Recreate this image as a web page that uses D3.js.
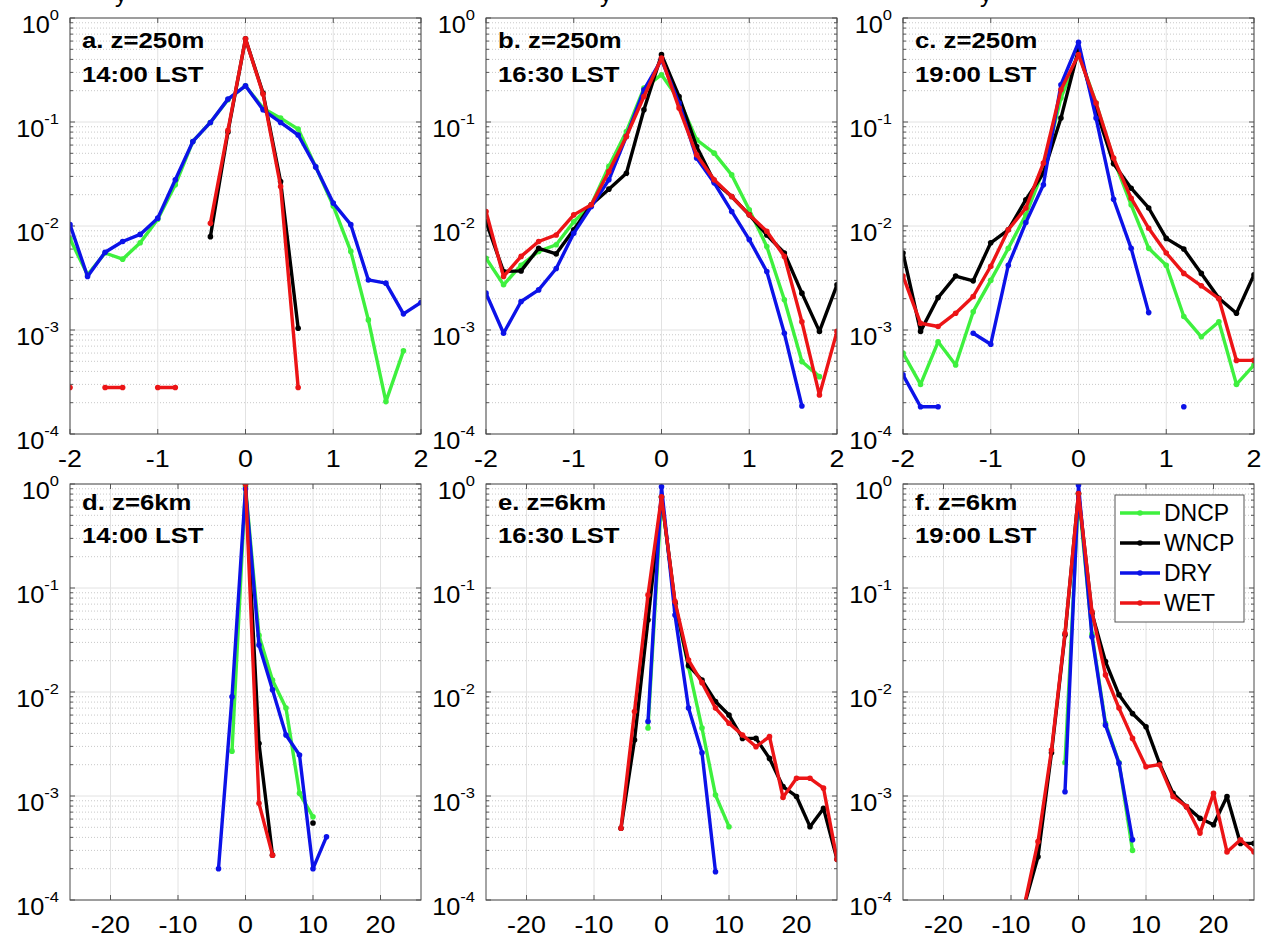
<!DOCTYPE html>
<html>
<head>
<meta charset="utf-8">
<script src="https://cdn.jsdelivr.net/npm/d3@7"></script>
<style>
  body { margin: 0; background: #fff; }
  text { font-family: "Liberation Sans", Arial, Helvetica, sans-serif; }
</style>
</head>
<body>
<svg id="chart" width="1264" height="941"></svg>
<script>
// x bins
var xTop = [-2, -1.8, -1.6, -1.4, -1.2, -1, -0.8, -0.6, -0.4, -0.2, 0, 0.2, 0.4, 0.6, 0.8, 1, 1.2, 1.4, 1.6, 1.8, 2];
var xBot = [-8, -6, -4, -2, 0, 2, 4, 6, 8, 10, 12, 14, 16, 18, 20, 22, 24, 26];

var seriesNames = ["DNCP", "WNCP", "DRY", "WET"];
var seriesColors = ["#3ef03e", "#000000", "#0c12e8", "#ec1416"];

var xTicksTop = [-2, -1, 0, 1, 2];
var xTicksBot = [-20, -10, 0, 10, 20];
var yTickExp = [0, -1, -2, -3, -4];

// a. z=250m 14:00
var dncpA = [0.0075, 0.0034, 0.0055, 0.0048, 0.0069, 0.0116, 0.0249, 0.065, 0.099, 0.164, 0.223, 0.136, 0.109, 0.0855, 0.037, 0.0156, 0.0057, 0.00125, 0.000205, 0.00063, null];
var wncpA = [null, null, null, null, null, null, null, null, 0.0079, 0.08, 0.63, 0.19, 0.0268, 0.00104, null, null, null, null, null, null, null];
var dryA  = [0.0103, 0.00327, 0.0056, 0.0071, 0.0083, 0.0119, 0.0278, 0.065, 0.099, 0.166, 0.223, 0.131, 0.099, 0.075, 0.037, 0.0166, 0.0103, 0.00303, 0.00282, 0.00143, 0.00184];
var wetA  = [0.00028, null, 0.00028, 0.00028, null, 0.00028, 0.00028, null, 0.0106, 0.083, 0.63, 0.186, 0.024, 0.00028, null, null, null, null, null, null, null];

// b. z=250m 16:30
var dncpB = [0.0049, 0.00272, 0.0042, 0.0057, 0.0066, 0.011, 0.016, 0.0374, 0.081, 0.212, 0.285, 0.164, 0.0675, 0.0502, 0.031, 0.0143, 0.00635, 0.00195, 0.000497, 0.000356, null];
var wncpB = [0.011, 0.00365, 0.0037, 0.0061, 0.0054, 0.0092, 0.016, 0.0226, 0.0322, 0.131, 0.444, 0.176, 0.058, 0.0268, 0.0192, 0.0128, 0.0082, 0.0055, 0.00226, 0.00097, 0.00272];
var dryB  = [0.00226, 0.00093, 0.00188, 0.00243, 0.0039, 0.0085, 0.0154, 0.0278, 0.0727, 0.204, 0.397, 0.152, 0.045, 0.026, 0.0138, 0.0074, 0.00365, 0.00093, 0.000186, null, null];
var wetB  = [0.0138, 0.00327, 0.0051, 0.0071, 0.0082, 0.0128, 0.016, 0.0334, 0.0727, 0.176, 0.412, 0.136, 0.0484, 0.0278, 0.0192, 0.0128, 0.0089, 0.0051, 0.0012, 0.000237, 0.00097];

// c. z=250m 19:00
var dncpC = [0.0006, 0.0003, 0.00077, 0.00046, 0.0015, 0.003, 0.0061, 0.0128, 0.0347, 0.17, 0.46, 0.152, 0.044, 0.016, 0.0061, 0.0042, 0.00135, 0.00086, 0.0012, 0.0003, 0.00046];
var wncpC = [0.0055, 0.00097, 0.00205, 0.0033, 0.00297, 0.0069, 0.0092, 0.0179, 0.0322, 0.109, 0.496, 0.131, 0.0397, 0.0231, 0.0149, 0.0076, 0.006, 0.0035, 0.00202, 0.00145, 0.0034];
var dryC  = [0.00037, 0.000183, 0.000183, null, 0.00093, 0.00073, 0.0042, 0.0108, 0.0249, 0.228, 0.583, 0.109, 0.0181, 0.0061, 0.00147, null, 0.000183, null, null, null, null];
var wetC  = [0.0033, 0.00116, 0.00108, 0.00145, 0.0021, 0.0041, 0.0092, 0.0149, 0.0402, 0.204, 0.444, 0.152, 0.045, 0.0185, 0.0095, 0.0055, 0.0035, 0.00266, 0.002, 0.00051, 0.00051];

// d. z=6km 14:00
var dncpD = [null, null, null, 0.0027, 0.95, 0.035, 0.013, 0.007, 0.00106, 0.00063, null, null, null, null, null, null, null, null];
var wncpD = [null, null, null, null, 1.0, 0.0032, 0.00027, null, null, 0.00055, null, null, null, null, null, null, null, null];
var dryD  = [null, null, 0.0002, 0.009, 0.9, 0.0283, 0.0105, 0.00386, 0.00248, 0.0002, 0.000406, null, null, null, null, null, null, null];
var wetD  = [null, null, null, null, 1.0, 0.00085, 0.00027, null, null, null, null, null, null, null, null, null, null, null];

// e. z=6km 16:30
var dncpE = [null, null, null, 0.0045, 0.75, 0.07, 0.0175, 0.0045, 0.00102, 0.000507, null, null, null, null, null, null, null, null];
var wncpE = [null, 0.00049, 0.00345, 0.0492, 0.75, 0.072, 0.018, 0.013, 0.0081, 0.006, 0.00358, 0.00358, 0.0023, 0.00123, 0.00099, 0.000507, 0.00076, 0.000246];
var dryE  = [null, null, null, 0.0052, 0.94, 0.055, 0.007, 0.0026, 0.000187, null, null, null, null, null, null, null, null, null];
var wetE  = [null, 0.00049, 0.0065, 0.0857, 0.755, 0.074, 0.0203, 0.0123, 0.007, 0.005, 0.00386, 0.00298, 0.00372, 0.00097, 0.00148, 0.00148, 0.00119, 0.000246];

// f. z=6km 19:00
var dncpF = [null, null, null, 0.0021, 0.8, 0.036, 0.005, 0.0021, 0.0003, null, null, null, null, null, null, null, null, null];
var wncpF = [0.00009, 0.00026, 0.0026, 0.0355, 0.81, 0.057, 0.0196, 0.0094, 0.0062, 0.00464, 0.00206, 0.00106, 0.00079, 0.00061, 0.00053, 0.00099, 0.00035, 0.00035];
var dryF  = [null, null, null, 0.0011, 0.98, 0.034, 0.0048, 0.00206, 0.00038, null, null, null, null, null, null, null, null, null];
var wetF  = [0.00009, 0.000364, 0.00277, 0.0367, 0.81, 0.059, 0.0146, 0.007, 0.00358, 0.00191, 0.002, 0.00099, 0.00079, 0.00044, 0.00106, 0.00029, 0.00038, 0.00029];

var panelTitles = [["a. z=250m", "14:00 LST"], ["b. z=250m", "16:30 LST"], ["c. z=250m", "19:00 LST"],
                   ["d. z=6km", "14:00 LST"], ["e. z=6km", "16:30 LST"], ["f. z=6km", "19:00 LST"]];

var panels = [
  { x: xTop, dom: [-2, 2], ticks: xTicksTop, data: [dncpA, wncpA, dryA, wetA] },
  { x: xTop, dom: [-2, 2], ticks: xTicksTop, data: [dncpB, wncpB, dryB, wetB] },
  { x: xTop, dom: [-2, 2], ticks: xTicksTop, data: [dncpC, wncpC, dryC, wetC] },
  { x: xBot, dom: [-26, 26], ticks: xTicksBot, data: [dncpD, wncpD, dryD, wetD] },
  { x: xBot, dom: [-26, 26], ticks: xTicksBot, data: [dncpE, wncpE, dryE, wetE] },
  { x: xBot, dom: [-26, 26], ticks: xTicksBot, data: [dncpF, wncpF, dryF, wetF] }
];

var svg = d3.select("#chart");
var lefts = [70, 486, 903], tops = [18, 484];
var width = 351, height = 416;

var yScale = d3.scaleLog().domain([1e-4, 1]).range([height, 0]);
var minorVals = [];
yTickExp.slice(1).forEach(function(e) {
  for (var m = 2; m <= 9; m++) minorVals.push(m * Math.pow(10, e));
});

// cut-off text fragments at the very top (as in the source image)
[115, 600, 980].forEach(function(x) {
  svg.append("text").attr("x", x).attr("y", 2).attr("font-size", 24).text("y");
});

panels.forEach(function(p, i) {
  var col = i % 3, row = Math.floor(i / 3);
  var g = svg.append("g").attr("transform", "translate(" + lefts[col] + "," + tops[row] + ")");
  var xScale = d3.scaleLinear().domain(p.dom).range([0, width]);

  g.append("defs").append("clipPath").attr("id", "clip" + i)
    .append("rect").attr("width", width).attr("height", height);

  // grid
  g.selectAll(".minor").data(minorVals).enter().append("line")
    .attr("x1", 0).attr("x2", width)
    .attr("y1", function(d) { return yScale(d); }).attr("y2", function(d) { return yScale(d); })
    .attr("stroke", "#c8c8c8").attr("stroke-dasharray", "1,2").attr("stroke-width", 1);
  g.selectAll(".hgrid").data(yTickExp).enter().append("line")
    .attr("x1", 0).attr("x2", width)
    .attr("y1", function(d) { return yScale(Math.pow(10, d)); }).attr("y2", function(d) { return yScale(Math.pow(10, d)); })
    .attr("stroke", "#e2e2e2");
  g.selectAll(".vgrid").data(p.ticks).enter().append("line")
    .attr("y1", 0).attr("y2", height)
    .attr("x1", function(d) { return xScale(d); }).attr("x2", function(d) { return xScale(d); })
    .attr("stroke", "#e2e2e2");

  // ticks, inside on every side
  var tk = g.append("g").attr("stroke", "#555");
  p.ticks.forEach(function(t) {
    tk.append("line").attr("x1", xScale(t)).attr("x2", xScale(t)).attr("y1", height).attr("y2", height - 5);
    tk.append("line").attr("x1", xScale(t)).attr("x2", xScale(t)).attr("y1", 0).attr("y2", 5);
  });
  yTickExp.forEach(function(e) {
    var y = yScale(Math.pow(10, e));
    tk.append("line").attr("x1", 0).attr("x2", 5).attr("y1", y).attr("y2", y);
    tk.append("line").attr("x1", width).attr("x2", width - 5).attr("y1", y).attr("y2", y);
  });
  minorVals.forEach(function(v) {
    var y = yScale(v);
    tk.append("line").attr("x1", 0).attr("x2", 3).attr("y1", y).attr("y2", y);
    tk.append("line").attr("x1", width).attr("x2", width - 3).attr("y1", y).attr("y2", y);
  });

  // tick labels
  p.ticks.forEach(function(t) {
    g.append("text")
      .attr("transform", "translate(" + xScale(t) + "," + (height + 33) + ") scale(1.12,1)")
      .attr("text-anchor", "middle").attr("font-size", 24)
      .text(t < 0 ? "-" + Math.abs(t) : t);
  });
  yTickExp.forEach(function(e) {
    var t = g.append("text")
      .attr("transform", "translate(-11," + (yScale(Math.pow(10, e)) + 15) + ") scale(1.1,1)")
      .attr("text-anchor", "end").attr("font-size", 23);
    t.append("tspan").text("10");
    t.append("tspan").attr("dy", -13).attr("font-size", 15).text(e === 0 ? "0" : "-" + Math.abs(e));
  });

  // series
  var line = d3.line()
    .defined(function(d) { return d[1] != null; })
    .x(function(d) { return xScale(d[0]); })
    .y(function(d) { return yScale(d[1]); });
  var plot = g.append("g").attr("clip-path", "url(#clip" + i + ")");
  p.data.forEach(function(vals, k) {
    var pts = p.x.map(function(x, j) { return [x, vals[j]]; });
    plot.append("path").datum(pts)
      .attr("d", line).attr("fill", "none")
      .attr("stroke", seriesColors[k]).attr("stroke-width", 3.4)
      .attr("stroke-linejoin", "round");
    plot.selectAll(".pt" + k).data(pts.filter(function(d) { return d[1] != null; }))
      .enter().append("circle")
      .attr("cx", function(d) { return xScale(d[0]); })
      .attr("cy", function(d) { return yScale(d[1]); })
      .attr("r", 2.8).attr("fill", seriesColors[k]);
  });

  // frame
  g.append("rect").attr("width", width).attr("height", height)
    .attr("fill", "none").attr("stroke", "#4a4a4a").attr("stroke-width", 1);

  // panel label
  var off = row === 0 ? [30, 64] : [26, 59];
  panelTitles[i].forEach(function(s, m) {
    g.append("text")
      .attr("transform", "translate(12," + off[m] + ") scale(1.17,1)")
      .attr("font-size", 22).attr("font-weight", "bold").text(s);
  });
});

// legend in panel f
var lg = svg.append("g").attr("transform", "translate(1115,495)");
lg.append("rect").attr("width", 129).attr("height", 127)
  .attr("fill", "#fff").attr("stroke", "#555");
seriesNames.forEach(function(n, k) {
  var y = 18 + k * 30;
  lg.append("line").attr("x1", 5).attr("x2", 45).attr("y1", y).attr("y2", y)
    .attr("stroke", seriesColors[k]).attr("stroke-width", 3.4);
  lg.append("circle").attr("cx", 25).attr("cy", y).attr("r", 2.8).attr("fill", seriesColors[k]);
  lg.append("text").attr("x", 49).attr("y", y + 8).attr("font-size", 23).text(n);
});
</script>
</body>
</html>
